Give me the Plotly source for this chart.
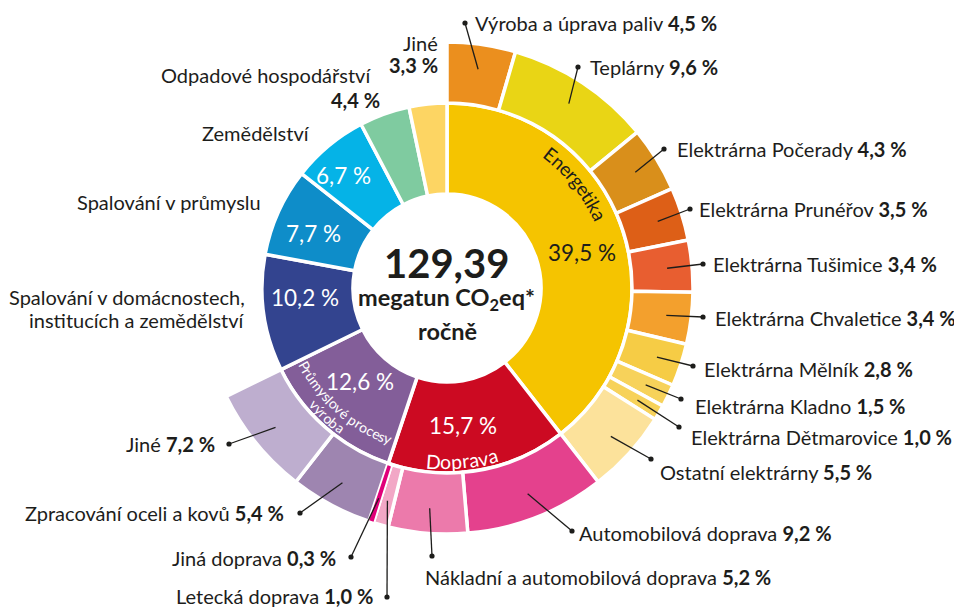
import math
import plotly.graph_objects as go

# window is 962x607, page body has an 8 px margin
OFF = 8
W, H = 962 - OFF, 607 - OFF

# ---------------- data ----------------
total_label = "129,39"

sector_names = ["Energetika", "Doprava", "Průmyslové procesy výroba",
                "Spalování v domácnostech, institucích a zemědělství",
                "Spalování v průmyslu", "Zemědělství", "Odpadové hospodářství", "Jiné"]
sector_values = [39.5, 15.7, 12.6, 10.2, 7.7, 6.7, 4.4, 3.3]
sector_colors = ["#F5C400", "#CC0A22", "#835E99", "#33448F",
                 "#0E8DC9", "#05B3E7", "#7FCBA0", "#FDD563"]

energy_names = ["Výroba a úprava paliv", "Teplárny", "Elektrárna Počerady",
                "Elektrárna Prunéřov", "Elektrárna Tušimice", "Elektrárna Chvaletice",
                "Elektrárna Mělník", "Elektrárna Kladno", "Elektrárna Dětmarovice",
                "Ostatní elektrárny"]
energy_values = [4.5, 9.6, 4.3, 3.5, 3.4, 3.4, 2.8, 1.5, 1.0, 5.5]
energy_colors = ["#EB8F1E", "#E9D515", "#D98F1B", "#DD5F17", "#E85E30",
                 "#F3A02D", "#F6CC45", "#F7D25A", "#F7D25A", "#FCE29B"]

transport_names = ["Automobilová doprava", "Nákladní a automobilová doprava",
                   "Letecká doprava", "Jiná doprava"]
transport_values = [9.2, 5.2, 1.0, 0.3]
transport_colors = ["#E4418D", "#EC7AAB", "#F2A7C6", "#E0007A"]

industry_names = ["Zpracování oceli a kovů", "Jiné"]
industry_values = [5.4, 7.2]
industry_colors = ["#9E85B0", "#BEAECF"]

# ---------------- geometry (window pixels) ----------------
CX, CY = 447, 288
R_HOLE, R_IN, R_OUT = 94, 185, 246
FONT = "Lato, 'Open Sans', sans-serif"
INK = "#1d1d1b"
LBL = 20


def px(x):
    return (x - OFF) / W


def py(y):
    return 1 - (y - OFF) / H


def domain(r):
    return dict(x=[px(CX - r), px(CX + r)], y=[py(CY + r), py(CY - r)])


fig = go.Figure()

# inner ring
fig.add_trace(go.Pie(
    labels=sector_names, values=sector_values, sort=False, direction="clockwise",
    rotation=0, hole=R_HOLE / R_IN, domain=domain(R_IN), textinfo="none",
    marker=dict(colors=sector_colors, line=dict(color="white", width=3.5)),
    hoverinfo="label+value", showlegend=False))

# outer ring
rest = round(sum(sector_values[3:]), 2)
outer_names = energy_names + transport_names + industry_names + ["ostatní sektory"]
outer_values = energy_values + transport_values + industry_values + [rest]
outer_colors = energy_colors + transport_colors + industry_colors + ["rgba(0,0,0,0)"]
line_colors = ["white"] * (len(outer_values) - 1) + ["rgba(0,0,0,0)"]
outer_labels = [f"{n} #{i}" for i, n in enumerate(outer_names)]
fig.add_trace(go.Pie(
    labels=outer_labels,
    values=outer_values, sort=False, direction="clockwise",
    rotation=0, hole=R_IN / R_OUT, domain=domain(R_OUT), textinfo="none",
    marker=dict(colors=outer_colors, line=dict(color=line_colors, width=3.5)),
    hoverinfo="none", showlegend=False))

# keep the thinnest slice (Jiná doprava) visible above the white separators
thin_idx = outer_names.index("Jiná doprava")
thin_colors = ["rgba(0,0,0,0)"] * len(outer_values)
thin_colors[thin_idx] = transport_colors[3]
fig.add_trace(go.Pie(
    labels=outer_labels, values=outer_values, sort=False, direction="clockwise",
    rotation=0, hole=(R_IN + 2) / (R_OUT - 1), domain=domain(R_OUT - 1),
    textinfo="none", marker=dict(colors=thin_colors, line=dict(width=0)),
    hoverinfo="none", showlegend=False))

annotations = []
shapes = []


def ann(text, x, y, size=LBL, color=INK, xanchor="left", angle=0, bold=False):
    annotations.append(dict(
        text=f"<b>{text}</b>" if bold else text, x=px(x), y=py(y),
        xref="paper", yref="paper", showarrow=False, xanchor=xanchor,
        yanchor="middle", textangle=angle,
        font=dict(family=FONT, size=size, color=color)))


def fmt(v):
    return f"{v:.1f}".replace(".", ",") + " %"


# mid angles of outer segments, from the data
tot = sum(outer_values)
mid_angles = []
acc = 0
for v in outer_values:
    mid_angles.append((acc + v / 2) / tot * 360)
    acc += v

# label layout: (text x, text y, anchor, dot x, dot y)
label_layout = [
    (473, 23, "left", 465, 23),
    (588, 67, "left", 578, 67),
    (675, 149, "left", 664, 149),
    (697, 209, "left", 690, 209),
    (711, 264, "left", 703, 264),
    (713, 318, "left", 703, 317),
    (702, 369, "left", 693, 366),
    (693, 406, "left", 681, 399),
    (689, 437, "left", 679, 427),
    (658, 472, "left", 651, 459),
    (577, 533, "left", 572, 531),
    (423, 577, "left", 432, 556),
    (375, 596, "right", 387, 597),
    (338, 558, "right", 351, 557),
    (286, 513, "right", 300, 513),
    (217, 444, "right", 229, 444),
]
R_LINE = 221
for i, (tx, ty, anc, dx, dy) in enumerate(label_layout):
    name = outer_names[i]
    val = outer_values[i]
    ann(f"{name} <b>{fmt(val)}</b>", tx, ty, xanchor=anc)
    th = math.radians(mid_angles[i])
    ex = CX + R_LINE * math.sin(th)
    ey = CY - R_LINE * math.cos(th)
    shapes.append(dict(type="line", xref="paper", yref="paper",
                       x0=px(dx), y0=py(dy), x1=px(ex), y1=py(ey),
                       line=dict(color=INK, width=1.3), layer="above"))
    rd = 2.6
    shapes.append(dict(type="circle", xref="paper", yref="paper",
                       x0=px(dx - rd), x1=px(dx + rd), y0=py(dy + rd), y1=py(dy - rd),
                       fillcolor=INK, line=dict(width=0), layer="above"))

# left labels for sectors without breakdown
ann("Jiné", 440, 43, xanchor="right")
ann(fmt(sector_values[7]), 440, 65, xanchor="right", bold=True)
ann("Odpadové hospodářství", 373, 75, xanchor="right")
ann(fmt(sector_values[6]), 382, 100, xanchor="right", bold=True)
ann("Zemědělství", 312, 133, xanchor="right")
ann("Spalování v průmyslu", 263, 202, xanchor="right")
ann("Spalování v domácnostech,", 247, 297, xanchor="right")
ann("institucích a zemědělství", 247, 320, xanchor="right")

# inner ring values
VS = 22.5
ann(fmt(sector_values[0]), 582, 253, size=VS, xanchor="center")
ann(fmt(sector_values[1]), 463, 425, size=VS, color="white", xanchor="center")
ann(fmt(sector_values[2]), 360, 382, size=VS, color="white", xanchor="center")
ann(fmt(sector_values[3]), 305, 297, size=VS, color="white", xanchor="center")
ann(fmt(sector_values[4]), 313, 233, size=VS, color="white", xanchor="center")
ann(fmt(sector_values[5]), 343, 175, size=VS, color="white", xanchor="center")

# centre
ann(total_label, 446, 263, size=40, xanchor="center", bold=True)
ann("megatun CO<sub>2</sub>eq*", 446, 299, size=23.5, xanchor="center", bold=True)
ann("ročně", 447, 331, size=23.5, xanchor="center", bold=True)

# curved sector titles
CW = {'E': .56, 'n': .56, 'e': .52, 'r': .37, 'g': .50, 't': .35, 'i': .24, 'k': .50,
      'a': .49, ' ': .26, 'P': .58, 'ů': .56, 'm': .84, 'y': .49, 's': .41, 'l': .24,
      'o': .55, 'v': .49, 'é': .52, 'p': .56, 'c': .45, 'ý': .49, 'b': .56, 'D': .72}


def arc_text(text, r, theta_c, size, color, upper=True):
    total = sum(CW.get(c, .52) for c in text) * size
    dpp = 180 / (math.pi * r)
    d = 1 if upper else -1
    start = theta_c - d * total / 2 * dpp
    pos = 0
    for ch in text:
        cw = CW.get(ch, .52) * size
        th = start + d * (pos + cw / 2) * dpp
        pos += cw
        if ch == " ":
            continue
        t = math.radians(th)
        x = CX + r * math.sin(t)
        y = CY - r * math.cos(t)
        ann(ch, x, y, size=size, color=color, xanchor="center",
            angle=th if upper else th - 180)


arc_text("Energetika", 169, 51, 19, INK, upper=True)
arc_text("Průmyslové procesy", 162, 221.5, 14, "white", upper=False)
arc_text("výroba", 176, 223, 14, "white", upper=False)
arc_text("Doprava", 174, 175, 19.5, "white", upper=False)

fig.update_layout(
    width=W, height=H, margin=dict(l=0, r=0, t=0, b=0),
    paper_bgcolor="white", plot_bgcolor="white", showlegend=False,
    annotations=annotations, shapes=shapes,
    font=dict(family=FONT, color=INK))

fig.write_html("out.html")
